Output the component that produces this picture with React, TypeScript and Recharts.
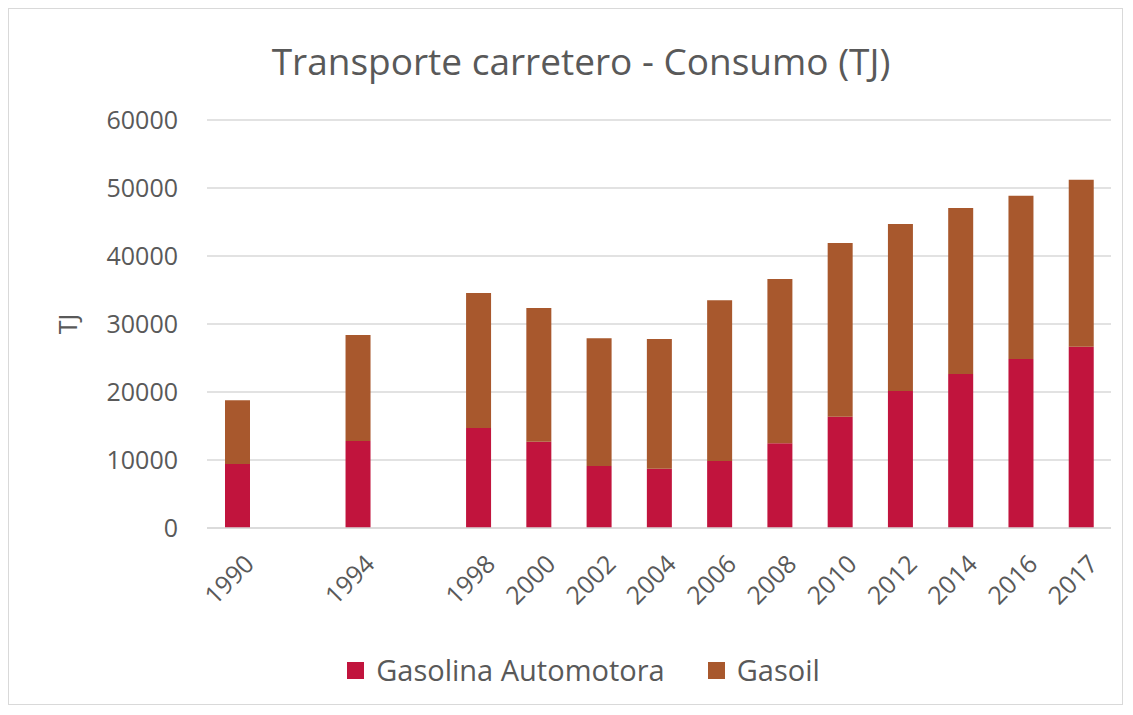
import { BarChart, Bar, XAxis, YAxis, CartesianGrid, Legend } from "recharts";

const YEARS = ["1990", "1992", "1994", "1996", "1998", "2000", "2002", "2004", "2006", "2008", "2010", "2012", "2014", "2016", "2017"];
// 1992 and 1996 have no data and no label in the original
const HIDDEN_YEARS = ["1992", "1996"];
const GASOLINA = [9400, null, 12800, null, 14700, 12700, 9100, 8700, 9850, 12450, 16350, 20150, 22650, 24850, 26650];
const GASOIL = [9400, null, 15600, null, 19850, 19650, 18800, 19100, 23650, 24150, 25550, 24550, 24400, 24000, 24550];
const Y_TICKS = [0, 10000, 20000, 30000, 40000, 50000, 60000];
const SERIES_ORDER = ["Gasolina Automotora", "Gasoil"];

const RED = "#C1143D";
const BROWN = "#A8582D";
const TEXT = "#595959";
const FONT = "'Open Sans', sans-serif";

const data = YEARS.map((year, i) => ({
  year,
  gasolina: GASOLINA[i],
  gasoil: GASOIL[i],
}));

const renderLegend = (props: any) => {
  const items = [...(props.payload || [])].sort(
    (a: any, b: any) => SERIES_ORDER.indexOf(a.value) - SERIES_ORDER.indexOf(b.value)
  );
  return (
    <div style={{ display: "flex", justifyContent: "center", paddingLeft: 36, fontFamily: FONT }}>
      {items.map((item: any, i: number) => (
        <div key={item.value} style={{ display: "flex", alignItems: "center", marginLeft: i === 0 ? 0 : 43 }}>
          <div style={{ width: 17, height: 17, background: item.color, marginRight: 12 }} />
          <span style={{ fontSize: 29, color: TEXT, lineHeight: "40px" }}>{item.value}</span>
        </div>
      ))}
    </div>
  );
};

export default function App() {
  return (
    <div
      style={{
        position: "relative",
        width: 1113,
        height: 695,
        border: "1px solid #d9d9d9",
        background: "#fff",
        fontFamily: FONT,
      }}
    >
      <div
        style={{
          position: "absolute",
          top: 30,
          left: 0,
          width: 1113,
          paddingLeft: 31,
          boxSizing: "border-box",
          textAlign: "center",
          fontSize: 37,
          lineHeight: "44px",
          color: TEXT,
        }}
      >
        Transporte carretero - Consumo (TJ)
      </div>
      <div style={{ position: "absolute", top: 0, left: 0 }}>
        <BarChart
          width={1113}
          height={695}
          data={data}
          margin={{ top: 111, right: 11, left: 40, bottom: 41 }}
          barSize={25}
        >
          <CartesianGrid vertical={false} stroke="#d9d9d9" strokeWidth={1.5} />
          <XAxis
            dataKey="year"
            interval={0}
            height={95}
            tickLine={false}
            axisLine={{ stroke: "#d9d9d9", strokeWidth: 1.5 }}
            tickSize={0}
            tickMargin={25}
            tickFormatter={(v: string) => (HIDDEN_YEARS.includes(v) ? "" : v)}
            tick={{ fill: TEXT, fontSize: 25, fontFamily: FONT, angle: -45, textAnchor: "end", dx: 6 }}
          />
          <YAxis
            domain={[0, 60000]}
            ticks={Y_TICKS}
            width={158}
            tickLine={false}
            axisLine={false}
            tickSize={0}
            tickMargin={29}
            tick={{ fill: TEXT, fontSize: 25, fontFamily: FONT }}
            label={{
              content: (p: any) => {
                const vb = p.viewBox || { x: 40, y: 111, height: 408 };
                const cx = vb.x + 18;
                const cy = vb.y + vb.height / 2;
                return (
                  <text
                    x={cx}
                    y={cy}
                    transform={`rotate(-90 ${cx} ${cy})`}
                    textAnchor="middle"
                    dominantBaseline="central"
                    fill={TEXT}
                    fontSize={25}
                    fontFamily={FONT}
                  >
                    TJ
                  </text>
                );
              },
            }}
          />
          <Legend
            content={renderLegend}
            wrapperStyle={{ top: 641, left: 0, width: 1113, height: 40 }}
          />
          <Bar dataKey="gasolina" name="Gasolina Automotora" stackId="a" fill={RED} isAnimationActive={false} />
          <Bar dataKey="gasoil" name="Gasoil" stackId="a" fill={BROWN} isAnimationActive={false} />
        </BarChart>
      </div>
    </div>
  );
}
